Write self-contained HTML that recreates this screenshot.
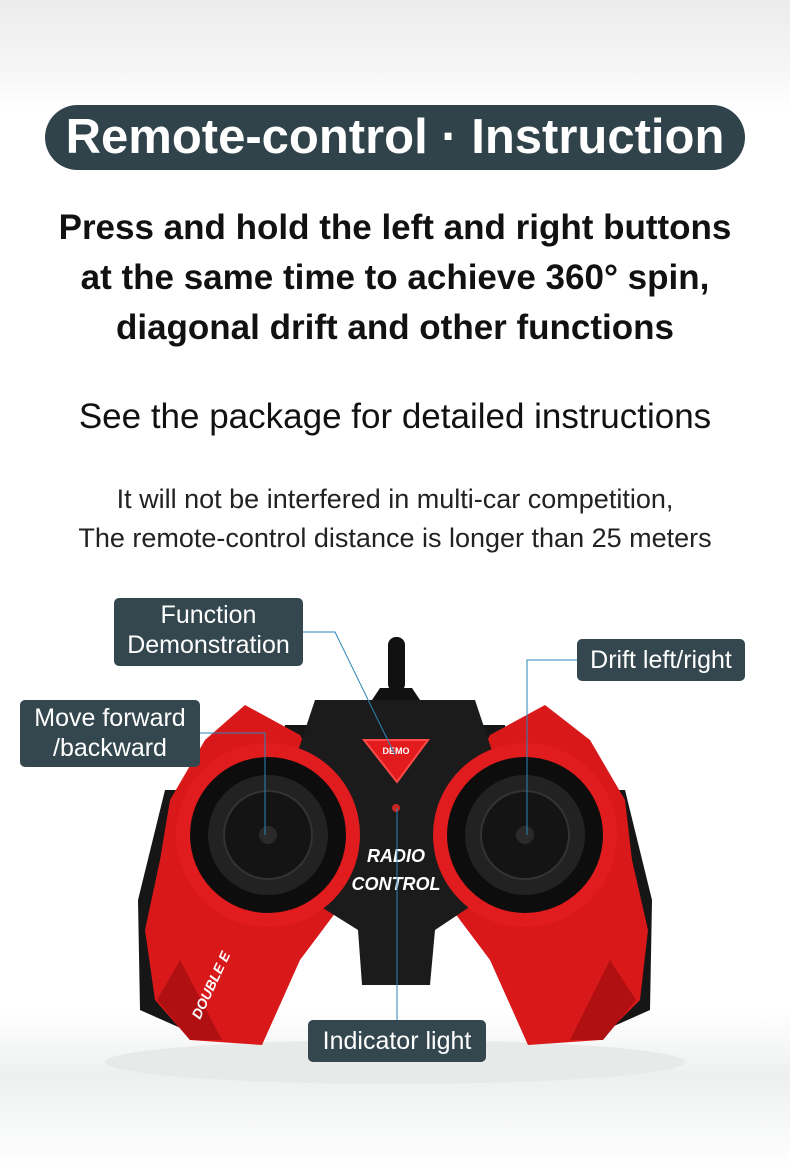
<!DOCTYPE html>
<html><head><meta charset="utf-8"><style>
body{margin:0;width:790px;height:1168px;overflow:hidden;background:linear-gradient(#ececec 0px,#f6f6f6 70px,#fff 110px,#fff 1010px,#eef0f0 1075px,#fff 1168px);font-family:"Liberation Sans",Arial,sans-serif;position:relative}
.t{position:absolute;left:0;width:790px;text-align:center;color:#111;white-space:nowrap}
.pill{position:absolute;left:45px;top:105px;width:700px;height:65px;border-radius:33px;background:#30424a;color:#fff;font-weight:bold;font-size:49px;line-height:65px;text-align:center;white-space:nowrap}
.lb{position:absolute;background:#34474e;color:#fff;font-size:25px;line-height:30px;text-align:center;border-radius:5px}
</style></head><body>
<div class="pill">Remote-control · Instruction</div>
<div class="t" style="top:203px;font-weight:bold;font-size:35px;line-height:50px">Press and hold the left and right buttons<br>at the same time to achieve 360° spin,<br>diagonal drift and other functions</div>
<div class="t" style="top:397px;font-size:35px">See the package for detailed instructions</div>
<div class="t" style="top:480px;font-size:27px;line-height:39px;color:#222">It will not be interfered in multi-car competition,<br>The remote-control distance is longer than 25 meters</div>
<svg style="position:absolute;left:0;top:0" width="790" height="1168">
<ellipse cx="395" cy="1062" rx="290" ry="22" fill="#e8eaea"/>
<rect x="388" y="637" width="17" height="55" rx="8" fill="#111"/>
<path d="M372 700 L380 688 L412 688 L420 700Z" fill="#111"/>
<path d="M165 790 L138 900 L140 1010 L185 1030 L200 900 L205 790Z" fill="#161616"/>
<path d="M625 790 L652 900 L650 1010 L605 1030 L590 900 L585 790Z" fill="#161616"/>
<path d="M285 725 L505 725 L520 800 L470 900 L320 900 L270 800Z" fill="#161616"/>
<path d="M245 705 L300 735 L335 800 L345 900 L300 960 L262 1045 L190 1040 L155 1000 L145 930 L160 860 L170 800 L205 740Z" fill="#d9181a"/>
<path d="M545 705 L490 735 L455 800 L445 900 L490 960 L528 1045 L600 1040 L640 1000 L648 930 L632 860 L625 800 L590 740Z" fill="#d9181a"/>
<path d="M180 960 L222 1040 L190 1040 L157 1000Z" fill="#b01012"/>
<path d="M610 960 L570 1040 L603 1040 L636 1000Z" fill="#b01012"/>
<path d="M315 700 L475 700 L495 760 L480 900 L435 930 L430 985 L362 985 L358 930 L310 900 L295 760Z" fill="#1b1b1b"/>
<circle cx="268" cy="835" r="92" fill="#e11c1e"/>
<circle cx="268" cy="835" r="78" fill="#0d0d0d"/>
<circle cx="268" cy="835" r="60" fill="#222"/>
<circle cx="268" cy="835" r="44" fill="#141414" stroke="#333" stroke-width="2"/>
<circle cx="268" cy="835" r="9" fill="#2a2a2a"/>
<circle cx="525" cy="835" r="92" fill="#e11c1e"/>
<circle cx="525" cy="835" r="78" fill="#0d0d0d"/>
<circle cx="525" cy="835" r="60" fill="#222"/>
<circle cx="525" cy="835" r="44" fill="#141414" stroke="#333" stroke-width="2"/>
<circle cx="525" cy="835" r="9" fill="#2a2a2a"/>
<path d="M364 740 L428 740 L397 782Z" fill="#e21b1d" stroke="#ff4a4a" stroke-width="2"/>
<text x="396" y="754" font-size="9" fill="#fff" text-anchor="middle" font-weight="bold">DEMO</text>
<circle cx="396" cy="808" r="4" fill="#c22"/>
<text x="396" y="862" font-size="18" fill="#fff" text-anchor="middle" font-weight="bold" font-style="italic">RADIO</text>
<text x="396" y="890" font-size="18" fill="#fff" text-anchor="middle" font-weight="bold" font-style="italic">CONTROL</text>
<text x="200" y="1020" font-size="14" fill="#fff" font-weight="bold" font-style="italic" transform="rotate(-65 200 1020)">DOUBLE E</text>
<g stroke="#2a86b8" stroke-width="1" fill="none">
<polyline points="200,632 335,632 395,755"/>
<polyline points="577,660 527,660 527,835"/>
<polyline points="200,733 265,733 265,835"/>
<line x1="397" y1="808" x2="397" y2="1020"/>
</g>
</svg>
<div class="lb" style="left:114px;top:598px;width:189px;height:68px;padding-top:2px;box-sizing:border-box">Function<br>Demonstration</div>
<div class="lb" style="left:577px;top:639px;width:168px;height:42px;line-height:42px">Drift left/right</div>
<div class="lb" style="left:20px;top:700px;width:180px;height:67px;padding-top:3px;box-sizing:border-box">Move forward<br>/backward</div>
<div class="lb" style="left:308px;top:1020px;width:178px;height:42px;line-height:42px">Indicator light</div>
</body></html>
